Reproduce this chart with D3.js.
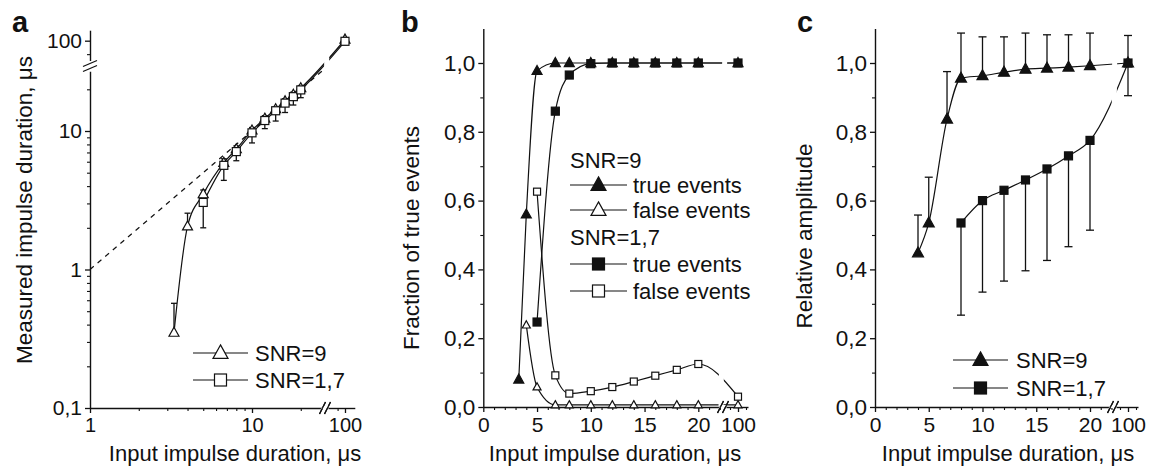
<!DOCTYPE html>
<html><head><meta charset="utf-8">
<script src="https://cdnjs.cloudflare.com/ajax/libs/d3/7.8.5/d3.min.js"></script>
<style>
body{margin:0;background:#fff;}
svg{display:block;}
text{font-family:"Liberation Sans",Arial,sans-serif;fill:#111;}
</style>
</head><body>
<svg id="chart" width="1153" height="471"></svg>
<script>
// ---------------- DATA ----------------
const xDur = [3.3, 4, 5, 6.7, 8, 10, 12, 14, 16, 18, 20, 100];

// panel a: measured duration
const aSnr9X = [3.3, 4, 5, 6.7, 8, 10, 12, 14, 16, 18, 20, 100];
const aSnr9Y = [0.35, 2.05, 3.5, 5.9, 7.4, 10.1, 12.3, 14.4, 16.4, 18.3, 20.4, 102];
const aSnr9ErrTop = [0.57, 2.55, 3.75, 6.3, 7.8, 10.6, 12.9, 15.0, 17.1, 19.1, 21.3, 105];
const aSnr17X = [5, 6.7, 8, 10, 12, 14, 16, 18, 20, 100];
const aSnr17Y = [3.05, 5.65, 7.1, 9.7, 11.9, 14.0, 15.9, 17.7, 19.8, 99];
const aSnr17ErrBottom = [2.0, 4.4, 6.1, 8.2, 10.4, 11.8, 13.6, 15.4, 17.4, 96];
const aIdealX = [1, 27];
const aXMajor = [1, 10, 100];
const aXMinor = [2, 3, 4, 5, 6, 7, 8, 9, 20, 90];
const aYMajor = [0.1, 1, 10, 100];
const aYMinor = [0.2, 0.3, 0.4, 0.5, 0.6, 0.7, 0.8, 0.9, 2, 3, 4, 5, 6, 7, 8, 9, 20, 80];
const aXLabels = ["1", "10", "100"];
const aYLabels = ["0,1", "1", "10", "100"];

// panel b: fraction of events
const bTrue9 = [0.08, 0.56, 0.977, 1.0, 1.0, 1.0, 1.0, 1.0, 1.0, 1.0, 1.0, 1.0];
const bFalse9 = [null, 0.238, 0.058, 0.006, 0.006, 0.006, 0.006, 0.006, 0.006, 0.006, 0.006, 0.006];
const bTrue17 = [null, null, 0.247, 0.86, 0.965, 0.998, 1.0, 1.0, 1.0, 1.0, 1.0, 1.0];
const bFalse17 = [null, null, 0.626, 0.092, 0.039, 0.046, 0.058, 0.074, 0.091, 0.108, 0.125, 0.03];

// panel c: relative amplitude
const cSnr9X = [4, 5, 6.7, 8, 10, 12, 14, 16, 18, 20, 100];
const cSnr9Y = [0.448, 0.535, 0.837, 0.956, 0.963, 0.973, 0.982, 0.985, 0.988, 0.992, 1.0];
const cSnr9ErrTop = [0.558, 0.668, 0.975, 1.087, 1.076, 1.076, 1.087, 1.082, 1.082, 1.087, 1.08];
const cSnr17X = [8, 10, 12, 14, 16, 18, 20, 100];
const cSnr17Y = [0.535, 0.6, 0.63, 0.66, 0.692, 0.73, 0.775, 1.0];
const cSnr17ErrBottom = [0.267, 0.334, 0.366, 0.396, 0.426, 0.466, 0.514, 0.905];

const linXMajor = [0, 5, 10, 15, 20];
const linXMinor = [1, 2, 3, 4, 6, 7, 8, 9, 11, 12, 13, 14, 16, 17, 18, 19, 21, 22];
const linXUpMajor = [100];
const linXUpMinor = [98, 102];
const fracYMajor = [0, 0.2, 0.4, 0.6, 0.8, 1.0];
const fracYMinor = [0.1, 0.3, 0.5, 0.7, 0.9];

const xTitle = "Input impulse duration, μs";

// ---------------- HELPERS ----------------
const svg = d3.select("#chart");
const INK = "#111";
const comma = d => d3.format(".1f")(d).replace(".", ",");

function piecewise(main, upper, brk) { return v => (v <= brk ? main(v) : upper(v)); }

function axis(g, scale, orient, pos, majors, minors, labels, fs) {
  const mk = orient === "left" ? d3.axisLeft : d3.axisBottom;
  const tr = orient === "left" ? `translate(${pos},0)` : `translate(0,${pos})`;
  const a = mk(scale).tickValues(majors).tickSizeInner(5).tickSizeOuter(0)
    .tickPadding(orient === "left" ? 3 : 5)
    .tickFormat(labels ? ((d, i) => labels[i]) : () => "");
  const ga = g.append("g").attr("transform", tr).call(a);
  ga.attr("font-family", null).attr("font-size", null);
  ga.select(".domain").attr("stroke", INK).attr("stroke-width", 1.4);
  ga.selectAll(".tick line").attr("stroke", INK).attr("stroke-width", 1.3);
  ga.selectAll(".tick text").attr("fill", INK).style("font-size", fs + "px");
  if (minors && minors.length) {
    const m = mk(scale).tickValues(minors).tickSizeInner(3).tickSizeOuter(0).tickFormat(() => "");
    const gm = g.append("g").attr("transform", tr).call(m);
    gm.select(".domain").remove();
    gm.selectAll(".tick line").attr("stroke", INK).attr("stroke-width", 1.1);
  }
}

function tri(g, x, y, w, filled) {
  const h = w * 0.9;
  g.append("path")
    .attr("d", `M${x},${y - h * 0.6}L${x + w / 2},${y + h * 0.4}L${x - w / 2},${y + h * 0.4}Z`)
    .attr("fill", filled ? INK : "#fff").attr("stroke", INK).attr("stroke-width", 1.2);
}
function sq(g, x, y, w, filled) {
  g.append("rect").attr("x", x - w / 2).attr("y", y - w / 2).attr("width", w).attr("height", w)
    .attr("fill", filled ? INK : "#fff").attr("stroke", INK).attr("stroke-width", 1.2);
}
function errBar(g, x, y1, y2, cap) {
  g.append("line").attr("x1", x).attr("x2", x).attr("y1", y1).attr("y2", y2).attr("stroke", INK).attr("stroke-width", 1.3);
  g.append("line").attr("x1", x - cap / 2).attr("x2", x + cap / 2).attr("y1", y2).attr("y2", y2).attr("stroke", INK).attr("stroke-width", 1.3);
}
function curve(g, X, Y, xs, ys, dash) {
  const pts = xs.map((x, i) => [x, ys[i]]).filter(p => p[1] != null);
  g.append("path").datum(pts)
    .attr("d", d3.line().x(p => X(p[0])).y(p => Y(p[1])).curve(d3.curveMonotoneX))
    .attr("fill", "none").attr("stroke", INK).attr("stroke-width", 1.2)
    .attr("stroke-dasharray", dash || null);
}
function xBreak(g, bx, ay, top, gap) {
  g.append("path").attr("d", `M${bx - gap / 2 - 2},${ay + 1}L${bx + gap / 2 - 2},${ay + 1}L${bx + gap / 2 + 2},${top}L${bx - gap / 2 + 2},${top}Z`)
    .attr("fill", "#fff");
  [-gap / 2, gap / 2].forEach(o => {
    g.append("line").attr("x1", bx + o - 3).attr("y1", ay + 6).attr("x2", bx + o + 3).attr("y2", ay - 6)
      .attr("stroke", INK).attr("stroke-width", 1.3);
  });
}
function yBreak(g, ax, by, gap) {
  [-gap / 2, gap / 2].forEach(o => {
    g.append("line").attr("x1", ax - 7).attr("y1", by + o + 3).attr("x2", ax + 7).attr("y2", by + o - 3)
      .attr("stroke", INK).attr("stroke-width", 1.3);
  });
}
function yTitle(g, x, y, t) {
  g.append("text").attr("transform", `translate(${x},${y}) rotate(-90)`).attr("text-anchor", "middle")
    .style("font-size", "22.5px").text(t);
}
function xTitleT(g, x, y, t) {
  g.append("text").attr("x", x).attr("y", y).attr("text-anchor", "middle").style("font-size", "22px").text(t);
}
function panelLabel(g, x, y, t) {
  g.append("text").attr("x", x).attr("y", y).style("font-size", "29px").style("font-weight", "bold").text(t);
}
function legendRow(g, x1, x2, y, markerFn, text, tx) {
  g.append("line").attr("x1", x1).attr("x2", x2).attr("y1", y).attr("y2", y).attr("stroke", INK).attr("stroke-width", 1.2);
  markerFn((x1 + x2) / 2, y);
  g.append("text").attr("x", tx).attr("y", y).attr("dy", "0.36em").style("font-size", "22px").text(text);
}

// ---------------- PANEL A ----------------
{
  const g = svg.append("g");
  const axX = 90, axY = 408;
  const xm = d3.scaleLog().domain([1, 27]).range([90, 90 + 162 * Math.log10(27)]);
  const xu = d3.scaleLog().domain([78.5, 115]).range([328, 354.8]);
  const ym = d3.scaleLog().domain([0.1, 27]).range([408, 408 - 138.5 * Math.log10(270)]);
  const yu = d3.scaleLog().domain([72, 119]).range([60.5, 30.2]);
  const X = piecewise(xm, xu, 50), Y = piecewise(ym, yu, 50);

  g.append("line").attr("x1", X(aIdealX[0])).attr("y1", Y(aIdealX[0])).attr("x2", X(aIdealX[1])).attr("y2", Y(aIdealX[1]))
    .attr("stroke", INK).attr("stroke-width", 1.2).attr("stroke-dasharray", "5,5");
  curve(g, X, Y, aSnr9X, aSnr9Y);
  curve(g, X, Y, aSnr17X, aSnr17Y);

  xBreak(g, 325, axY, 30, 5);
  const ix = (arr, lo, hi) => arr.filter(v => v >= lo && v <= hi);
  axis(g, xm, "bottom", axY, ix(aXMajor, 1, 27), ix(aXMinor, 1, 27), aXLabels.slice(0, 2), 20);
  axis(g, xu, "bottom", axY, [100], [90], ["100"], 20);
  axis(g, ym, "left", axX, ix(aYMajor, 0.1, 27), ix(aYMinor, 0.1, 27), aYLabels.slice(0, 3), 21);
  axis(g, yu, "left", axX, [100], [80], ["100"], 21);
  xBreak(g, 325, axY, axY - 2, 5);
  yBreak(g, axX, 66, 5);

  aSnr9X.forEach((x, i) => errBar(g, X(x), Y(aSnr9Y[i]), Y(aSnr9ErrTop[i]), 6));
  aSnr17X.forEach((x, i) => errBar(g, X(x), Y(aSnr17Y[i]), Y(aSnr17ErrBottom[i]), 6));
  aSnr9X.forEach((x, i) => tri(g, X(x), Y(aSnr9Y[i]), 10, false));
  aSnr17X.forEach((x, i) => sq(g, X(x), Y(aSnr17Y[i]), 8, false));

  legendRow(g, 193, 248, 353, (x, y) => tri(g, x, y, 15, false), "SNR=9", 255);
  legendRow(g, 193, 248, 380, (x, y) => sq(g, x, y, 12, false), "SNR=1,7", 255);

  yTitle(g, 32, 210, "Measured impulse duration, μs");
  xTitleT(g, 235, 461, xTitle);
  panelLabel(g, 12, 32, "a");
}

// ---------------- PANEL B ----------------
{
  const g = svg.append("g");
  const axX = 483.3, axY = 407;
  const xm = d3.scaleLinear().domain([0, 22]).range([483.3, 483.3 + 22 * 10.75]);
  const xu = d3.scaleLinear().domain([97, 102.5]).range([726, 748]);
  const y = d3.scaleLinear().domain([0, 1.1]).range([407, 407 - 1.1 * 344]);
  const X = piecewise(xm, xu, 50);

  curve(g, X, y, xDur, bTrue9);
  curve(g, X, y, xDur, bFalse9);
  curve(g, X, y, xDur, bTrue17);
  curve(g, X, y, xDur, bFalse17);
  xBreak(g, 723, axY, 30, 5);

  axis(g, xm, "bottom", axY, linXMajor, linXMinor, linXMajor.map(String), 21);
  axis(g, xu, "bottom", axY, linXUpMajor, linXUpMinor, ["100"], 21);
  axis(g, y, "left", axX, fracYMajor, fracYMinor, fracYMajor.map(comma), 22.5);
  xBreak(g, 723, axY, axY - 2, 5);

  xDur.forEach((x, i) => { if (bFalse9[i] != null) tri(g, X(x), y(bFalse9[i]), 8, false); });
  xDur.forEach((x, i) => { if (bFalse17[i] != null) sq(g, X(x), y(bFalse17[i]), 7, false); });
  xDur.forEach((x, i) => { if (bTrue17[i] != null) sq(g, X(x), y(bTrue17[i]), 8, true); });
  xDur.forEach((x, i) => { if (bTrue9[i] != null) tri(g, X(x), y(bTrue9[i]), 10, true); });

  g.append("text").attr("x", 570).attr("y", 160).attr("dy", "0.36em").style("font-size", "22px").text("SNR=9");
  legendRow(g, 570, 627, 185, (x, yy) => tri(g, x, yy, 15, true), "true events", 633);
  legendRow(g, 570, 627, 210, (x, yy) => tri(g, x, yy, 15, false), "false events", 633);
  g.append("text").attr("x", 570).attr("y", 237).attr("dy", "0.36em").style("font-size", "22px").text("SNR=1,7");
  legendRow(g, 570, 627, 264, (x, yy) => sq(g, x, yy, 12, true), "true events", 633);
  legendRow(g, 570, 627, 291, (x, yy) => sq(g, x, yy, 12, false), "false events", 633);

  yTitle(g, 419, 238, "Fraction of true events");
  xTitleT(g, 615, 461, xTitle);
  panelLabel(g, 401, 32, "b");
}

// ---------------- PANEL C ----------------
{
  const g = svg.append("g");
  const axX = 875, axY = 407;
  const xm = d3.scaleLinear().domain([0, 22]).range([875, 875 + 22 * 10.75]);
  const xu = d3.scaleLinear().domain([97, 102.5]).range([1116, 1138]);
  const y = d3.scaleLinear().domain([0, 1.1]).range([407, 407 - 1.1 * 344]);
  const X = piecewise(xm, xu, 50);

  curve(g, X, y, cSnr9X, cSnr9Y);
  curve(g, X, y, cSnr17X, cSnr17Y);
  xBreak(g, 1113, axY, 30, 5);

  axis(g, xm, "bottom", axY, linXMajor, linXMinor, linXMajor.map(String), 21);
  axis(g, xu, "bottom", axY, linXUpMajor, linXUpMinor, ["100"], 21);
  axis(g, y, "left", axX, fracYMajor, fracYMinor, fracYMajor.map(comma), 22.5);
  xBreak(g, 1113, axY, axY - 2, 5);

  cSnr9X.forEach((x, i) => errBar(g, X(x), y(cSnr9Y[i]), y(cSnr9ErrTop[i]), 8));
  cSnr17X.forEach((x, i) => errBar(g, X(x), y(cSnr17Y[i]), y(cSnr17ErrBottom[i]), 8));
  cSnr17X.forEach((x, i) => sq(g, X(x), y(cSnr17Y[i]), 8, true));
  cSnr9X.forEach((x, i) => tri(g, X(x), y(cSnr9Y[i]), 11, true));

  legendRow(g, 953, 1008, 360, (x, yy) => tri(g, x, yy, 15, true), "SNR=9", 1016);
  legendRow(g, 953, 1008, 388, (x, yy) => sq(g, x, yy, 12, true), "SNR=1,7", 1016);

  yTitle(g, 812, 236, "Relative amplitude");
  xTitleT(g, 1008, 461, xTitle);
  panelLabel(g, 797, 32, "c");
}
</script>
</body></html>
